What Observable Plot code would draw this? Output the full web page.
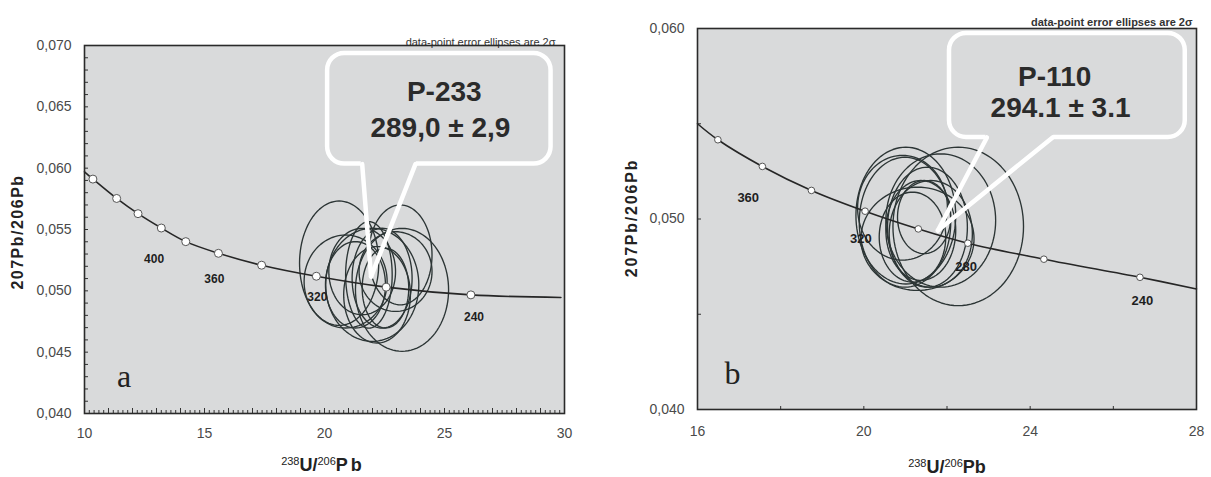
<!DOCTYPE html>
<html>
<head>
<meta charset="utf-8">
<script src="https://cdn.jsdelivr.net/npm/d3@7"></script>
<script src="https://cdn.jsdelivr.net/npm/@observablehq/plot@0.6"></script>
<style>
  html, body { margin: 0; padding: 0; background: #fff; }
  #wrap { position: relative; width: 1211px; height: 477px; overflow: hidden; font-family: "Liberation Sans", Arial, sans-serif; }
  .panel { position: absolute; top: 0; }
  .ytitle { position: absolute; transform: translate(-50%, -50%) rotate(-90deg); font-weight: bold; font-size: 16px; white-space: nowrap; color: #222; }
  .xtitle { position: absolute; transform: translate(-50%, -50%); white-space: nowrap; color: #222; line-height: 20px; }
  .xtitle sup { font-size: 11px; font-weight: normal; vertical-align: 6px; line-height: 0; }
  .xtitle b { font-size: 18px; }
</style>
</head>
<body>
<div id="wrap">
  <div id="pa" class="panel" style="left:0px"></div>
  <div id="pb" class="panel" style="left:600px"></div>
  <div class="ytitle" style="left:18px; top:232px; letter-spacing:1.5px">207Pb/206Pb</div>
  <div class="ytitle" style="left:632px; top:218px; letter-spacing:1.8px">207Pb/206Pb</div>
  <div class="xtitle" style="left:323px; top:465px"><sup>238</sup><b>U/</b><sup>206</sup><b style="letter-spacing:3px">Pb</b></div>
  <div class="xtitle" style="left:947px; top:467px"><sup>238</sup><b>U/</b><sup>206</sup><b>Pb</b></div>
</div>
<script>
// ---------------- Panel a data ----------------
const curveA_x = [10.00, 10.35, 11.34, 12.23, 13.20, 14.22, 15.58, 17.38, 19.66, 22.57, 26.10, 29.85];
const curveA_y = [0.05970, 0.05911, 0.05753, 0.05629, 0.05512, 0.05401, 0.05306, 0.05209, 0.05119, 0.05030, 0.04967, 0.04946];
const dotsA_x = [10.35, 11.34, 12.23, 13.20, 14.22, 15.58, 17.38, 19.66, 22.57, 26.10];
const dotsA_y = [0.05911, 0.05753, 0.05629, 0.05512, 0.05401, 0.05306, 0.05209, 0.05119, 0.05030, 0.04967];
const agesA_text = ["400", "360", "320", "240"];
const agesA_x = [12.90, 15.41, 19.70, 26.23];
const agesA_y = [0.05258, 0.05095, 0.04946, 0.04783];
const ellA_cx = [20.61, 23.16, 23.23, 20.88, 21.99, 21.85, 22.40, 21.57, 22.96, 22.19, 21.29, 22.54];
const ellA_cy = [0.05225, 0.05293, 0.05008, 0.05076, 0.05049, 0.05130, 0.05103, 0.05157, 0.05157, 0.04968, 0.05049, 0.05022];
const ellA_rx = [1.65, 1.32, 1.94, 1.73, 1.94, 0.97, 1.25, 1.39, 1.52, 1.39, 1.25, 0.97];
const ellA_ry = [0.00507, 0.00407, 0.00501, 0.00379, 0.00461, 0.00434, 0.00407, 0.00352, 0.00325, 0.00393, 0.00352, 0.00325];
const xTicksA = [10, 15, 20, 25, 30];
const yTicksA = [0.040, 0.045, 0.050, 0.055, 0.060, 0.065, 0.070];
const boxA = {x1: 20.13, x2: 29.44, y1: 0.06033, y2: 0.06935};
const pointerA_x = [21.57, 21.94, 23.79];
const pointerA_y = [0.06033, 0.05116, 0.06033];
const calloutA_text = ["P-233", "289,0 ± 2,9"];
const calloutA_x = [24.99, 24.83];
const calloutA_y = [0.06618, 0.06325];
const letterA = {text: "a", x: 11.65, y: 0.04301};

// ---------------- Panel b data ----------------
const curveB_x = [16.00, 16.49, 17.56, 18.74, 20.03, 21.31, 22.50, 24.33, 26.64, 28.00];
const curveB_y = [0.05500, 0.05416, 0.05276, 0.05150, 0.05041, 0.04948, 0.04873, 0.04789, 0.04694, 0.04633];
const dotsB_x = [16.49, 17.56, 18.74, 20.03, 21.31, 22.50, 24.33, 26.64];
const dotsB_y = [0.05416, 0.05276, 0.05150, 0.05041, 0.04948, 0.04873, 0.04789, 0.04694];
const agesB_text = ["360", "320", "280", "240"];
const agesB_x = [17.22, 19.93, 22.46, 26.70];
const agesB_y = [0.05109, 0.04894, 0.04751, 0.04569];
const ellB_cx = [22.27, 21.01, 20.99, 20.93, 21.29, 21.45, 21.53, 21.61, 21.85, 21.37, 21.17];
const ellB_cy = [0.04961, 0.05018, 0.04983, 0.05059, 0.04896, 0.05010, 0.04957, 0.04922, 0.04992, 0.04940, 0.04905];
const ellB_rx = [1.57, 1.20, 1.10, 1.08, 1.36, 0.64, 0.96, 1.00, 1.32, 0.84, 0.80];
const ellB_ry = [0.00416, 0.00359, 0.00341, 0.00275, 0.00271, 0.00192, 0.00315, 0.00280, 0.00350, 0.00262, 0.00236];
const xTicksB = [16, 20, 24, 28];
const yTicksB = [0.040, 0.050, 0.060];
const xMinorB = [18, 20, 22, 24, 26];
const yMinorB = [0.045, 0.050, 0.055];
const boxB = {x1: 22.06, x2: 27.73, y1: 0.05428, y2: 0.05974};
const pointerB_x = [22.96, 21.78, 24.54];
const pointerB_y = [0.05428, 0.04940, 0.05428];
const calloutB_text = ["P-110", "294.1 ± 3.1"];
const calloutB_x = [24.59, 24.73];
const calloutB_y = [0.05743, 0.05585];
const letterB = {text: "b", x: 16.84, y: 0.04189};

const captionText = "data-point error ellipses are 2σ";

// ---------------- helpers ----------------
const BG = "#d9dadb";
const INK = "#2c3535";
const sansFont = "'Liberation Sans', Arial, sans-serif";
const commaFmt = v => v.toFixed(3).replace(".", ",");
const zip = (xs, ys, extra) => xs.map((x, i) => ({x, y: ys[i], ...(extra ? extra(i) : {})}));

function ellipsePoints(cx, cy, rx, ry) {
  const out = [];
  cx.forEach((_, i) => {
    const n = 96;
    for (let k = 0; k <= n; k++) {
      const t = 2 * Math.PI * k / n;
      out.push({id: i, x: cx[i] + rx[i] * Math.cos(t), y: cy[i] + ry[i] * Math.sin(t)});
    }
  });
  return out;
}

function calloutMarks(box, px, py, texts, tx, ty) {
  return [
    Plot.rect([box], {x1: "x1", x2: "x2", y1: "y1", y2: "y2", rx: 17, fill: BG, stroke: "white", strokeWidth: 4.5}),
    Plot.rect([box], {x1: px[0], x2: px[2], y1: "y1", y2: "y1", insetTop: -3.5, insetBottom: -3.5, insetLeft: -1, insetRight: -1, fill: BG}),
    Plot.link([0, 1], {x1: i => px[i * 2], y1: i => py[i * 2], x2: px[1], y2: py[1], stroke: "white", strokeWidth: 4.5, strokeLinecap: "round"}),
    Plot.text(texts, {x: (d, i) => tx[i], y: (d, i) => ty[i], text: d => d, fontSize: 28, fontWeight: "bold", fill: "#2b2b2b", fontFamily: sansFont})
  ];
}

function makePanel(cfg) {
  const innerW = cfg.width - cfg.marginLeft - cfg.marginRight;
  const innerH = cfg.height - cfg.marginTop - cfg.marginBottom;
  const svg = Plot.plot({
    width: cfg.width, height: cfg.height,
    marginLeft: cfg.marginLeft, marginRight: cfg.marginRight, marginTop: cfg.marginTop, marginBottom: cfg.marginBottom,
    x: {domain: cfg.xDomain, label: null},
    y: {domain: cfg.yDomain, label: null},
    style: {background: "transparent", fontFamily: sansFont, fontSize: "14px", color: "#444", overflow: "visible"},
    marks: [
      Plot.frame({fill: BG}),
      Plot.tickX(cfg.xMinor, {x: d => d, stroke: "#333", insetTop: innerH - 3}),
      ...(cfg.xMid ? [Plot.tickX(cfg.xMid, {x: d => d, stroke: "#333", insetTop: innerH - 5})] : []),
      Plot.tickY(cfg.yMinor, {y: d => d, stroke: "#333", insetRight: innerW - 4}),
      Plot.axisX(cfg.xTicks, {tickSize: 0, tickPadding: cfg.xPad, fontSize: 14, fill: "#4a4a4a", label: null}),
      Plot.axisY(cfg.yTicks, {tickSize: 0, tickPadding: 13, tickFormat: commaFmt, fontSize: 14, fill: "#4a4a4a", label: null}),
      Plot.line(cfg.ellipses, {x: "x", y: "y", z: "id", stroke: INK, strokeWidth: 1.35, curve: "linear"}),
      Plot.line(cfg.curve, {x: "x", y: "y", stroke: "#262626", strokeWidth: 1.6, curve: "catmull-rom"}),
      Plot.dot(cfg.dots, {x: "x", y: "y", r: cfg.dotR, fill: "white", stroke: "#555", strokeWidth: 1}),
      Plot.text(cfg.ages, {x: "x", y: "y", text: "t", fontSize: cfg.ageSize, fontWeight: "bold", fill: "#1e1e1e", fontFamily: sansFont, ariaLabel: "age labels"}),
      ...cfg.callout,
      Plot.text([cfg.letter], {x: "x", y: "y", text: "text", fontSize: 32, fill: "#222", fontFamily: "'Liberation Serif', 'Times New Roman', serif"}),
      Plot.text([captionText], {frameAnchor: "top-right", textAnchor: "end", dx: cfg.capDx, dy: cfg.capDy, fontSize: 11, fontWeight: cfg.capWeight, fill: "#333", fontFamily: sansFont, ariaLabel: "caption"}),
      Plot.frame({stroke: "#2a2a2a", strokeWidth: 1.6})
    ]
  });
  d3.select(svg).selectAll('g[aria-label="caption"] text')
    .attr("textLength", cfg.capLen).attr("lengthAdjust", "spacingAndGlyphs");
  d3.select(svg).selectAll('g[aria-label="age labels"] text')
    .attr("letter-spacing", cfg.ageSpacing);
  return svg;
}

const minorXA = d3.range(10, 30.001, 0.2).map(v => +v.toFixed(1));
const midXA = d3.range(10, 31, 1);
const minorYA = d3.range(0.040, 0.0705, 0.001).map(v => +v.toFixed(3));

const svgA = makePanel({
  width: 600, height: 477, marginLeft: 84, marginRight: 36, marginTop: 45, marginBottom: 64,
  xDomain: [10, 30], yDomain: [0.040, 0.070],
  xMinor: minorXA, xMid: midXA, yMinor: minorYA,
  xTicks: xTicksA, yTicks: yTicksA, xPad: 15,
  ellipses: ellipsePoints(ellA_cx, ellA_cy, ellA_rx, ellA_ry),
  curve: zip(curveA_x, curveA_y),
  dots: zip(dotsA_x, dotsA_y), dotR: 4,
  ages: zip(agesA_x, agesA_y, i => ({t: agesA_text[i]})), ageSize: 12, ageSpacing: 3,
  callout: calloutMarks(boxA, pointerA_x, pointerA_y, calloutA_text, calloutA_x, calloutA_y),
  letter: letterA,
  capDx: -9, capDy: -7, capLen: 153, capWeight: "normal"
});

const svgB = makePanel({
  width: 611, height: 477, marginLeft: 97, marginRight: 15, marginTop: 28, marginBottom: 68,
  xDomain: [16, 28], yDomain: [0.040, 0.060],
  xMinor: xMinorB, xMid: null, yMinor: yMinorB,
  xTicks: xTicksB, yTicks: yTicksB, xPad: 17,
  ellipses: ellipsePoints(ellB_cx, ellB_cy, ellB_rx, ellB_ry),
  curve: zip(curveB_x, curveB_y),
  dots: zip(dotsB_x, dotsB_y), dotR: 3.3,
  ages: zip(agesB_x, agesB_y, i => ({t: agesB_text[i]})), ageSize: 13, ageSpacing: 0,
  callout: calloutMarks(boxB, pointerB_x, pointerB_y, calloutB_text, calloutB_x, calloutB_y),
  letter: letterB,
  capDx: -4, capDy: -10, capLen: 150, capWeight: "bold"
});

document.getElementById("pa").appendChild(svgA);
document.getElementById("pb").appendChild(svgB);
</script>
</body>
</html>
